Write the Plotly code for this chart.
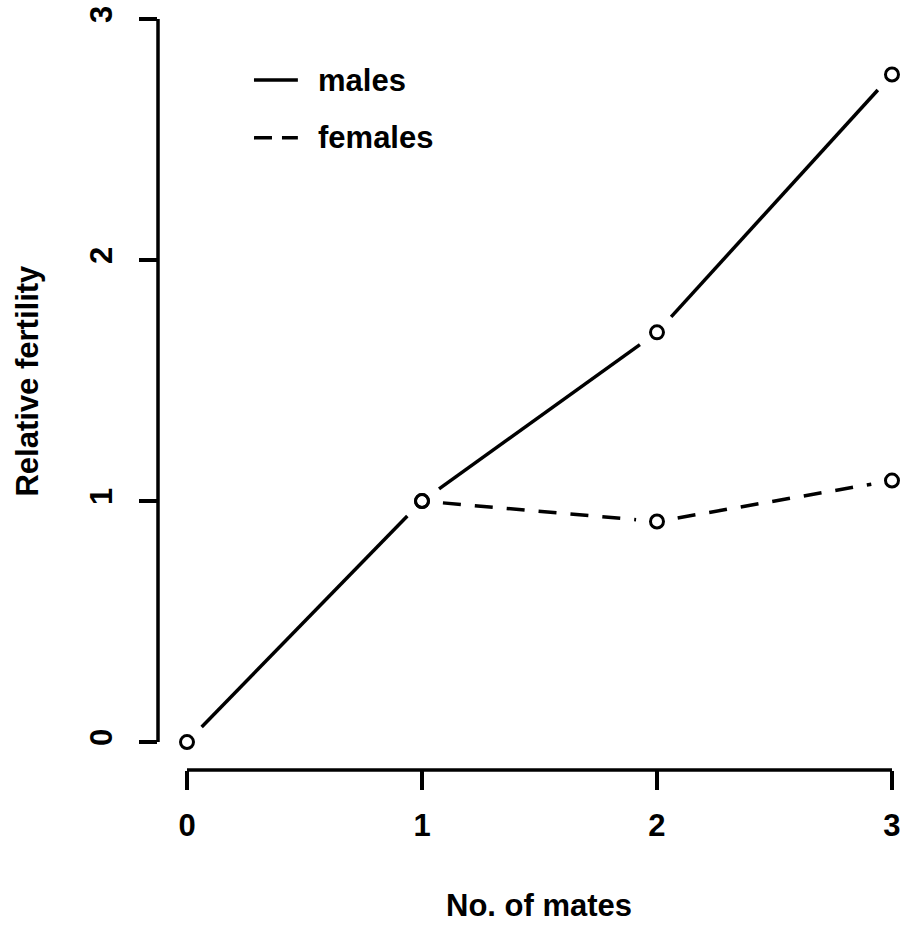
import math
import plotly.graph_objects as go

# ---- data ----
mates = [0, 1, 2, 3]
males = [0.0, 1.0, 1.70, 2.77]
female_mates = [1, 2, 3]
females = [1.0, 0.915, 1.085]
x_ticks = [0, 1, 2, 3]
y_ticks = [0, 1, 2, 3]
series_names = ["males", "females"]
x_title = "No. of mates"
y_title = "Relative fertility"

FONT = "Liberation Sans, Arial, sans-serif"
FS = 31
LW = 3.5

# layout geometry
W, H = 902, 925
ML, MR, MT, MB = 158, 0, 0, 155
XR = [-0.1234, 3.0426]
YR = [-0.116, 3.079]
GAP = 21  # px gap around each point (R type="b")

kx = (W - ML - MR) / (XR[1] - XR[0])
ky = (H - MT - MB) / (YR[1] - YR[0])


def gapped(xs, ys, gap=GAP):
    """Segments between consecutive points, shortened by `gap` px at each end."""
    ox, oy = [], []
    for (xa, ya), (xb, yb) in zip(zip(xs, ys), zip(xs[1:], ys[1:])):
        dx, dy = (xb - xa) * kx, (yb - ya) * ky
        L = math.hypot(dx, dy)
        if L <= 2 * gap:
            continue
        f = gap / L
        ox += [xa + (xb - xa) * f, xb - (xb - xa) * f, None]
        oy += [ya + (yb - ya) * f, yb - (yb - ya) * f, None]
    return ox, oy


fig = go.Figure()

mx, my = gapped(mates, males)
fx, fy = gapped(female_mates, females)
fig.add_trace(go.Scatter(x=mx, y=my, mode="lines", connectgaps=False,
                         line=dict(color="black", width=LW), showlegend=False))
fig.add_trace(go.Scatter(x=fx, y=fy, mode="lines", connectgaps=False,
                         line=dict(color="black", width=LW, dash="18px,14px"), showlegend=False))
for xs, ys in [(mates, males), (female_mates, females)]:
    fig.add_trace(go.Scatter(x=xs, y=ys, mode="markers",
                             marker=dict(symbol="circle-open", size=13, color="black",
                                         line=dict(width=3, color="black")),
                             showlegend=False))

# R-style axis lines spanning only the tick range
fig.add_shape(type="line", xref="x", yref="paper", x0=x_ticks[0], x1=x_ticks[-1], y0=0, y1=0,
              line=dict(color="black", width=LW))
fig.add_shape(type="line", xref="paper", yref="y", x0=0, x1=0, y0=y_ticks[0], y1=y_ticks[-1],
              line=dict(color="black", width=LW))

# legend
leg_x0, leg_x1, leg_tx = 0.129, 0.188, 0.213
leg_y = [0.896, 0.821]
dashes = ["solid", "18px,10px"]
for name, yy, d in zip(series_names, leg_y, dashes):
    fig.add_shape(type="line", xref="paper", yref="paper", x0=leg_x0, x1=leg_x1, y0=yy, y1=yy,
                  line=dict(color="black", width=LW, dash=d))
    fig.add_annotation(text=name, xref="paper", yref="paper", x=leg_tx, y=yy,
                       xanchor="left", yanchor="middle", showarrow=False,
                       font=dict(family=FONT, size=FS, color="black", weight="bold"))

# axis titles
fig.add_annotation(text=x_title, xref="x", yref="paper", x=1.5, y=0, yshift=-135,
                   xanchor="center", yanchor="middle", showarrow=False,
                   font=dict(family=FONT, size=FS, color="black", weight="bold"))
fig.add_annotation(text=y_title, xref="paper", yref="y", x=0, y=1.5, xshift=-130,
                   xanchor="center", yanchor="middle", textangle=-90, showarrow=False,
                   font=dict(family=FONT, size=FS, color="black", weight="bold"))

tickfont = dict(family=FONT, size=FS, color="black", weight="bold")
fig.update_xaxes(range=XR, tickvals=x_ticks, ticktext=[str(v) for v in x_ticks],
                 ticks="outside", ticklen=19, tickwidth=LW, tickcolor="black",
                 showgrid=False, zeroline=False, showline=False, tickfont=tickfont,
                 ticklabelstandoff=9)
fig.update_yaxes(range=YR, tickvals=y_ticks, ticktext=[str(v) for v in y_ticks],
                 ticks="outside", ticklen=18, tickwidth=LW, tickcolor="black",
                 showgrid=False, zeroline=False, showline=False, tickfont=tickfont,
                 tickangle=-90, ticklabelstandoff=15)

fig.update_layout(width=W, height=H, margin=dict(l=ML, r=MR, t=MT, b=MB),
                  plot_bgcolor="white", paper_bgcolor="white", showlegend=False)

fig.write_html("out.html")
